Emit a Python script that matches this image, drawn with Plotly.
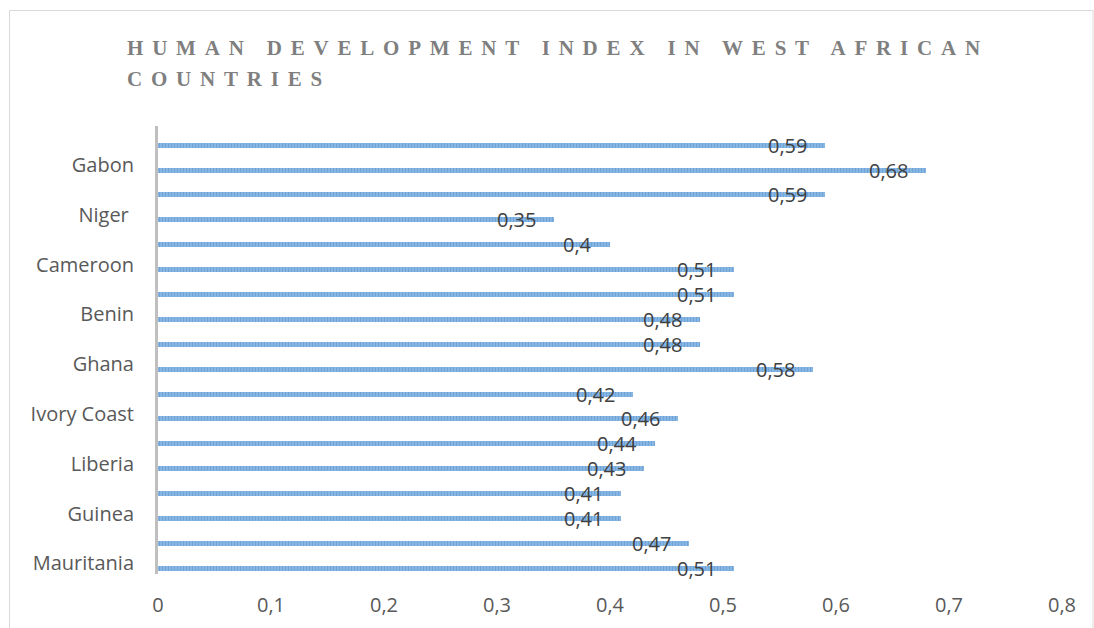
import plotly.graph_objects as go

# Categories from bottom to top (Excel shows every other label)
countries = ["Mauritania", "Senegal", "Guinea", "Sierra Leone", "Liberia", "Mali",
             "Ivory Coast", "Burkina Faso", "Ghana", "Togo", "Benin", "Nigeria",
             "Cameroon", "Chad", "Niger\u00a0", "Congo", "Gabon", "Equatorial Guinea"]
hdi = [0.51, 0.47, 0.41, 0.41, 0.43, 0.44, 0.46, 0.42, 0.58, 0.48, 0.48, 0.51,
       0.51, 0.40, 0.35, 0.59, 0.68, 0.59]
shown_labels = countries[0::2]
x_ticks = [0, 0.1, 0.2, 0.3, 0.4, 0.5, 0.6, 0.7, 0.8]
title_text = "HUMAN DEVELOPMENT INDEX IN WEST AFRICAN<br>COUNTRIES"

W, H = 1094, 628
L, R, T, B = 158, 32, 126, 54
pw, ph = W - L - R, H - T - B

fig = go.Figure()
fig.add_trace(go.Bar(
    x=hdi, y=countries, orientation="h", width=0.2,
    marker=dict(color="#5B9BD5", line=dict(width=0),
                pattern=dict(shape="|", size=3, solidity=0.5,
                             fgcolor="#4F8DCE", bgcolor="#8FBBE6")),
    hoverinfo="skip", showlegend=False,
))

annotations = []
for c, v in zip(countries, hdi):
    annotations.append(dict(
        x=v, y=c, xref="x", yref="y", text=("%g" % v).replace(".", ","),
        showarrow=False, xanchor="right", yanchor="middle", xshift=-16, yshift=0,
        font=dict(family="Open Sans", size=20, color="#404040"),
    ))

shapes = [dict(type="rect", xref="paper", yref="paper",
               x0=(9.5 - L) / pw, x1=(1093 - L) / pw,
               y0=-1, y1=1 + (T - 10.5) / ph,
               line=dict(color="#D9D9D9", width=1), fillcolor="rgba(0,0,0,0)",
               layer="below")]

fig.update_layout(
    width=W, height=H,
    margin=dict(l=L, r=R, t=T, b=B, pad=0, autoexpand=False),
    paper_bgcolor="white", plot_bgcolor="white",
    separators=",.",
    title=dict(text=title_text, x=127 / W, xanchor="left", xref="container",
               y=1 - 55 / H, yanchor="top", yref="container",
               font=dict(family="Liberation Serif", size=21, color="#7F7F7F", weight="bold")),
    xaxis=dict(range=[0, 0.8], tickvals=x_ticks, showgrid=False, zeroline=False,
               showline=False, ticks="", ticklabelstandoff=17, automargin=False,
               tickfont=dict(family="Open Sans", size=20, color="#595959")),
    yaxis=dict(type="category", categoryorder="array", categoryarray=countries,
               range=[-0.229, 17.771], tickvals=shown_labels, ticktext=shown_labels,
               showgrid=False, zeroline=False, showline=True, linecolor="#BFBFBF",
               linewidth=3, ticks="", ticklabelstandoff=17, ticklabelshift=-5,
               automargin=False,
               tickfont=dict(family="Open Sans", size=20, color="#595959")),
    annotations=annotations, shapes=shapes, bargap=0,
)

post = """
document.body.style.margin='0';
var s=document.createElement('style');
s.textContent='.gtitle{letter-spacing:8.8px}';
document.head.appendChild(s);
var ls=document.querySelectorAll('.gtitle tspan.line');
if(ls.length>1){ls[1].setAttribute('dy','1.48em');}
"""
fig.write_html("out.html", post_script=post, config={"displayModeBar": False})
